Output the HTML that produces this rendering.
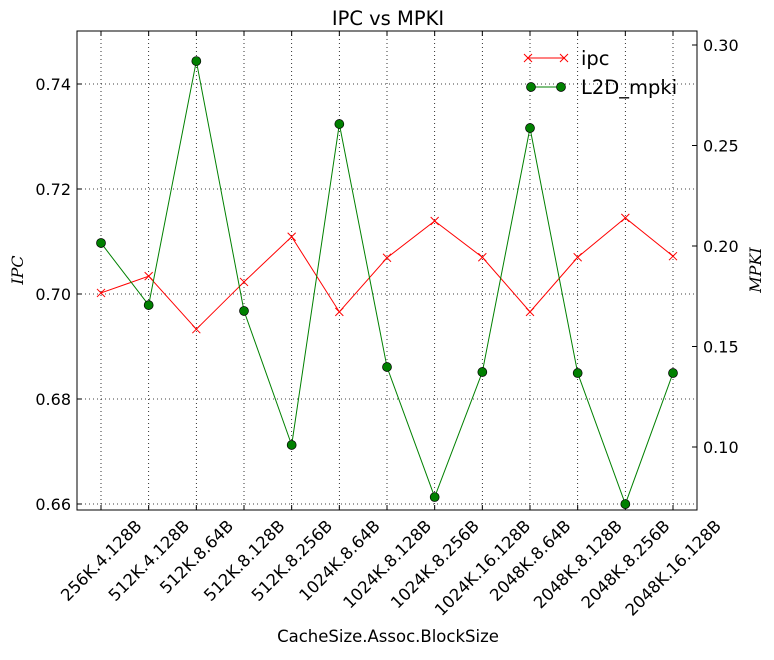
<!DOCTYPE html>
<html><head><meta charset="utf-8"><style>
body{margin:0;background:#fff;}
</style></head><body>
<svg width="774" height="655" id="c" style="font-family:'DejaVu Sans','Liberation Sans',sans-serif"></svg>
<script>
const categories=["256K.4.128B","512K.4.128B","512K.8.64B","512K.8.128B","512K.8.256B","1024K.8.64B","1024K.8.128B","1024K.8.256B","1024K.16.128B","2048K.8.64B","2048K.8.128B","2048K.8.256B","2048K.16.128B"];
const ipc=[0.7002,0.7034,0.6933,0.7023,0.7109,0.6966,0.7069,0.7139,0.7070,0.6966,0.7070,0.7145,0.7072];
const mpki=[0.2015,0.1706,0.292,0.1677,0.101,0.2607,0.1398,0.0751,0.1373,0.2587,0.1368,0.0716,0.1368];
const leftTicks=[0.66,0.68,0.70,0.72,0.74];
const rightTicks=[0.10,0.15,0.20,0.25,0.30];
const NS="http://www.w3.org/2000/svg",svg=document.getElementById('c');
const L=77,R=697,T=31,B=510;
const x=i=>101+i*(673-101)/(categories.length-1);
const yL=v=>294-(v-0.70)*5250;
const yR=v=>447-(v-0.10)*2010;
function el(t,a,p){const e=document.createElementNS(NS,t);for(const k in a)e.setAttribute(k,a[k]);(p||svg).appendChild(e);return e;}
let t=el('text',{x:388,y:25,'text-anchor':'middle','font-size':19.5});t.textContent='IPC vs MPKI';

const XF=16.5;
categories.forEach((c,i)=>{let g=el('line',{x1:x(i),x2:x(i),y1:T,y2:B,stroke:'#000','stroke-dasharray':'1,3','stroke-width':0.8});

el('line',{x1:x(i),x2:x(i),y1:B,y2:B-5,stroke:'#000'});el('line',{x1:x(i),x2:x(i),y1:T,y2:T+5,stroke:'#000'});
let lb=el('text',{x:0,y:XF*0.36,'text-anchor':'middle','font-size':XF});lb.textContent=c;

const w=lb.getComputedTextLength(),h=XF*1.0;
const cy=B+7+(w+h)/(2*Math.SQRT2);
lb.setAttribute('transform',`translate(${x(i)},${cy}) rotate(-45)`);});
leftTicks.forEach(v=>{let g=el('line',{x1:L,x2:R,y1:yL(v),y2:yL(v),stroke:'#000','stroke-dasharray':'1,3','stroke-width':0.8});

el('line',{x1:L,x2:L+5,y1:yL(v),y2:yL(v),stroke:'#000'});
let lb=el('text',{x:L-6,y:yL(v)+6,'text-anchor':'end','font-size':16});lb.textContent=v.toFixed(2);
});
rightTicks.forEach(v=>{el('line',{x1:R-5,x2:R,y1:yR(v),y2:yR(v),stroke:'#000'});
let lb=el('text',{x:R+6,y:yR(v)+6,'font-size':16});lb.textContent=v.toFixed(2);
});
let fr=el('rect',{x:L,y:T,width:R-L,height:B-T,fill:'none',stroke:'#000'});

let p=el('polyline',{points:ipc.map((v,i)=>x(i)+','+yL(v)).join(' '),fill:'none',stroke:'red'});

ipc.forEach((v,i)=>{let g=el('path',{d:`M${x(i)-4},${yL(v)-4}l8,8M${x(i)-4},${yL(v)+4}l8,-8`,stroke:'red'});
});
let q=el('polyline',{points:mpki.map((v,i)=>x(i)+','+yR(v)).join(' '),fill:'none',stroke:'green'});

mpki.forEach((v,i)=>{let g=el('circle',{cx:x(i),cy:yR(v),r:4.5,fill:'green',stroke:'#000','stroke-width':0.7});
});
el('line',{x1:527,x2:565,y1:58,y2:58,stroke:'red'});
el('path',{d:'M524,54l8,8M524,62l8,-8M560,54l8,8M560,62l8,-8',stroke:'red'});
let a=el('text',{x:581,y:65,'font-size':19.5});a.textContent='ipc';
el('line',{x1:531,x2:565,y1:87,y2:87,stroke:'green'});
el('circle',{cx:531,cy:87,r:4.5,fill:'green',stroke:'#000','stroke-width':0.7});el('circle',{cx:561,cy:87,r:4.5,fill:'green',stroke:'#000','stroke-width':0.7});
let b=el('text',{x:581,y:94,'font-size':19.5});b.textContent='L2D_mpki';
let xt=el('text',{x:388,y:642,'text-anchor':'middle','font-size':16.5});xt.textContent='CacheSize.Assoc.BlockSize';

let yt=el('text',{x:0,y:0,'text-anchor':'middle','font-size':16,'font-style':'italic',style:"font-family:'DejaVu Serif','Liberation Serif',serif",transform:'translate(23,270) rotate(-90)'});yt.textContent='IPC';

let rt=el('text',{x:0,y:0,'text-anchor':'middle','font-size':16,'font-style':'italic',style:"font-family:'DejaVu Serif','Liberation Serif',serif",transform:'translate(761,270) rotate(-90)'});rt.textContent='MPKI';

</script></body></html>
